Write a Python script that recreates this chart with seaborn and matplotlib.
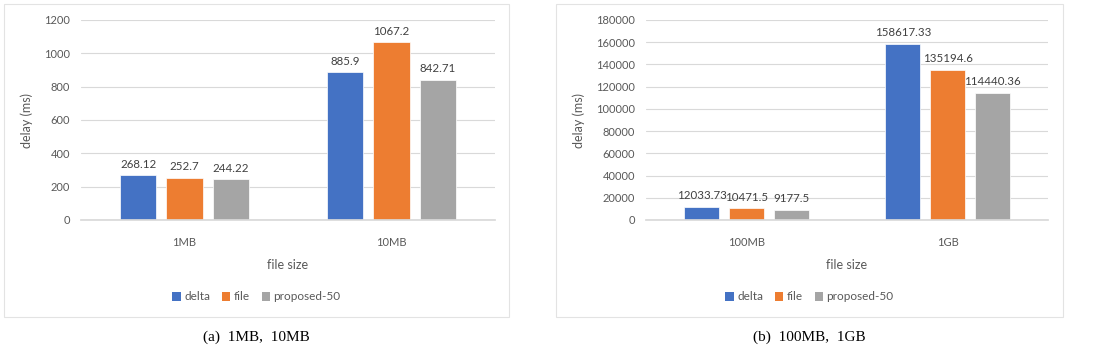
import matplotlib
matplotlib.use("Agg")
import matplotlib.pyplot as plt
import seaborn as sns
import pandas as pd
from matplotlib.patches import Rectangle, Patch

methods = ["delta", "file", "proposed-50"]
sizes_a = ["1MB", "10MB"]
delta_a = [268.12, 885.9]
file_a = [252.7, 1067.2]
prop_a = [244.22, 842.71]
sizes_b = ["100MB", "1GB"]
delta_b = [12033.73, 158617.33]
file_b = [10471.5, 135194.6]
prop_b = [9177.5, 114440.36]
colors = ["#4472C4", "#ED7D31", "#A5A5A5"]
captions = ["(a)  1MB,  10MB", "(b)  100MB,  1GB"]

sns.set_theme(style="white")
plt.rcParams["font.family"] = ["Lato", "DejaVu Sans"]
TXT = "#595959"

W, H = 1098, 350
fig = plt.figure(figsize=(W / 100, H / 100), dpi=100)


def make_df(sizes, d, f, p):
    rows = []
    for vals, m in zip([d, f, p], methods):
        for s, v in zip(sizes, vals):
            rows.append({"size": s, "method": m, "delay": v})
    return pd.DataFrame(rows)


def fmt(v):
    return f"{v:.2f}".rstrip("0").rstrip(".")


panels = [
    (make_df(sizes_a, delta_a, file_a, prop_a), sizes_a, (81, 414), 1200, 200, (4, 509)),
    (make_df(sizes_b, delta_b, file_b, prop_b), sizes_b, (646, 402), 180000, 20000, (556, 1063)),
]

for i, (df, sizes, (x0, w), ymax, step, (fx0, fx1)) in enumerate(panels):
    ax = fig.add_axes([x0 / W, 130 / H, w / W, 200 / H])
    sns.barplot(data=df, x="size", y="delay", hue="method", order=sizes,
                hue_order=methods, palette=colors, width=0.667, gap=0.217,
                errorbar=None, ax=ax, legend=False, saturation=1,
                edgecolor="white", linewidth=0.5)
    ax.set_ylim(0, ymax)
    ax.set_yticks(range(0, ymax + 1, step))
    ax.set_xlim(-0.5, 1.5)
    ax.yaxis.grid(True, color="#D9D9D9", lw=0.8)
    ax.set_axisbelow(True)
    for s in ["top", "right", "left"]:
        ax.spines[s].set_visible(False)
    ax.spines["bottom"].set_color("#D9D9D9")
    ax.tick_params(axis="both", length=0, labelsize=8, colors=TXT, pad=8)
    ax.tick_params(axis="x", pad=12)
    ax.set_xlabel("file size", fontsize=9, color=TXT, labelpad=8)
    ax.set_ylabel("delay (ms)", fontsize=9, color=TXT, labelpad=8)
    for c in ax.containers:
        ax.bar_label(c, fmt=fmt, padding=4, fontsize=8.3, color="#404040")

    # panel frame
    fig.add_artist(Rectangle((fx0 / W, (H - 317) / H), (fx1 - fx0) / W, 313 / H,
                             transform=fig.transFigure, fill=False,
                             edgecolor="#E3E3E3", lw=0.8))
    cx = (fx0 + fx1) / 2 / W
    handles = [Patch(facecolor=c, edgecolor="none") for c in colors]
    fig.legend(handles, methods, loc="center", bbox_to_anchor=(cx, (H - 297) / H),
               ncol=3, frameon=False, fontsize=8.5, handlelength=0.7,
               handleheight=0.7, handletextpad=0.3, columnspacing=1.0,
               labelcolor=TXT)
    fig.text(cx, (H - 337) / H, captions[i], ha="center", va="center",
             fontsize=11, color="black", family=["Liberation Serif", "DejaVu Serif"])

fig.savefig("out.png", dpi=100, facecolor="white")
